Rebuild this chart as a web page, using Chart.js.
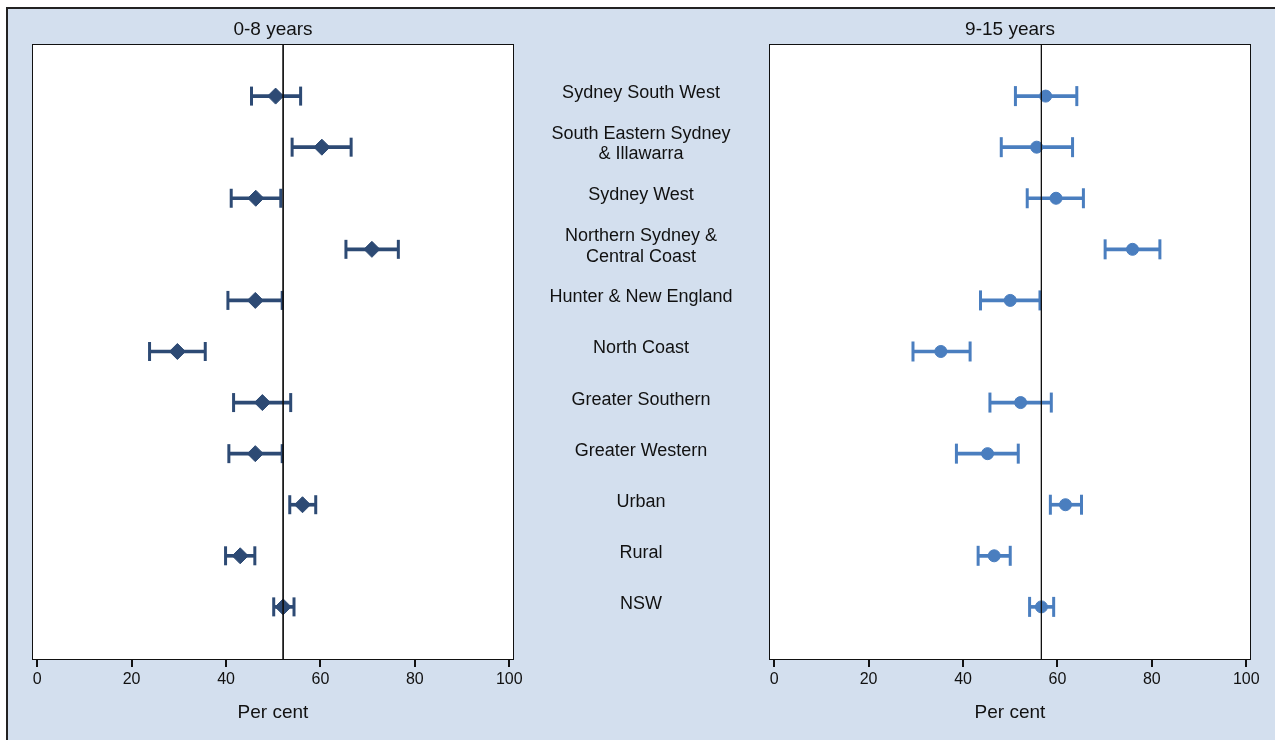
<!DOCTYPE html>
<html>
<head>
<meta charset="utf-8">
<script src="https://cdn.jsdelivr.net/npm/chart.js"></script>
<style>
  html, body { margin: 0; padding: 0; background: #fff; }
  body { width: 1275px; height: 740px; position: relative; overflow: hidden; }
  #frame {
    position: absolute; left: 6px; top: 7px; right: 0; bottom: 0;
    background: #d3dfee;
    border-left: 2px solid #222; border-top: 2px solid #222;
  }
  #left { position: absolute; left: 0; top: 0; }
  #right { position: absolute; left: 520px; top: 0; }
</style>
</head>
<body>
<div id="frame"></div>
<canvas id="left" width="546" height="740"></canvas>
<canvas id="right" width="755" height="740"></canvas>
<script>
// regions, top to bottom
const regions = [
  ["Sydney South West"],
  ["South Eastern Sydney", "& Illawarra"],
  ["Sydney West"],
  ["Northern Sydney &", "Central Coast"],
  ["Hunter & New England"],
  ["North Coast"],
  ["Greater Southern"],
  ["Greater Western"],
  ["Urban"],
  ["Rural"],
  ["NSW"]
];

// 0-8 years: estimate and 95% CI
const young = [50.5, 60.3, 46.3, 70.9, 46.2, 29.7, 47.7, 46.2, 56.2, 43.0, 52.1];
const youngLo = [45.4, 54.0, 41.1, 65.4, 40.4, 23.8, 41.6, 40.6, 53.5, 39.9, 50.1];
const youngHi = [55.8, 66.5, 51.6, 76.5, 51.9, 35.6, 53.7, 51.9, 59.0, 46.1, 54.4];

// 9-15 years
const older = [57.5, 55.6, 59.7, 75.9, 50.0, 35.3, 52.2, 45.2, 61.7, 46.6, 56.6];
const olderLo = [51.1, 48.1, 53.6, 70.1, 43.7, 29.4, 45.7, 38.6, 58.5, 43.2, 54.1];
const olderHi = [64.1, 63.2, 65.5, 81.7, 56.3, 41.5, 58.7, 51.7, 65.1, 50.0, 59.2];

const xTicks = [0, 20, 40, 60, 80, 100];

const FONT = 'Arial, "Liberation Sans", sans-serif';
const Y_MIN = -1.02, Y_MAX = 11.04;

// white plot area with a thin box round it
const framePlugin = {
  id: 'frame',
  beforeDatasetsDraw(chart) {
    const a = chart.chartArea, ctx = chart.ctx;
    ctx.save();
    ctx.fillStyle = '#fff';
    ctx.fillRect(a.left, a.top, a.right - a.left, a.bottom - a.top);
    ctx.restore();
  },
  afterDatasetsDraw(chart) {
    const a = chart.chartArea, ctx = chart.ctx;
    ctx.save();
    ctx.strokeStyle = '#111';
    ctx.lineWidth = 1;
    ctx.strokeRect(a.left + 0.5, a.top + 0.5, a.right - a.left - 1, a.bottom - a.top - 1);
    ctx.restore();
  }
};

function makeChart(id, title, est, lo, hi, color, marker, markerSize, capSize, labelAxis, padding) {
  const ref = est[est.length - 1]; // NSW value
  const yAxis = {
    type: 'linear', min: Y_MIN, max: Y_MAX, reverse: true, offset: false,
    display: labelAxis != null,
    grid: { display: false, drawTicks: false, offset: false },
    border: { display: false },
    afterBuildTicks: s => { s.ticks = regions.map((r, i) => ({ value: i })); },
    ticks: {
      callback: v => regions[v],
      crossAlign: 'center',
      padding: labelAxis ? labelAxis.padding : 0,
      labelOffset: -3,
      color: '#111',
      font: { family: FONT, size: 18, lineHeight: 1.15 }
    }
  };
  if (labelAxis) yAxis.afterFit = s => { s.width = labelAxis.width; s.paddingTop = 0; s.paddingBottom = 0; };

  return new Chart(document.getElementById(id), {
    type: 'bar',
    data: {
      datasets: [
        {
          type: 'line', order: 0,
          data: [{ x: ref, y: Y_MIN }, { x: ref, y: Y_MAX }],
          borderColor: '#111', borderWidth: 1, pointRadius: 0
        },
        {
          type: 'scatter', order: 1,
          data: est.map((v, i) => ({ x: v, y: i })),
          pointStyle: marker, pointRadius: markerSize,
          backgroundColor: color, borderColor: color, borderWidth: 1
        },
        {
          type: 'scatter', order: 2,
          data: lo.map((v, i) => ({ x: v, y: i })).concat(hi.map((v, i) => ({ x: v, y: i }))),
          pointStyle: 'line', rotation: 90, pointRadius: capSize,
          borderColor: color, borderWidth: 3
        },
        {
          type: 'bar', order: 3, indexAxis: 'y',
          data: lo.map((v, i) => ({ y: i, x: [v, hi[i]] })),
          barThickness: 3, backgroundColor: color, borderWidth: 0
        }
      ]
    },
    options: {
      responsive: false, animation: false, events: [],
      layout: { padding: padding },
      plugins: { legend: { display: false }, tooltip: { enabled: false } },
      scales: {
        x: {
          type: 'linear', position: 'bottom', min: -1.1, max: 101, offset: false,
          afterBuildTicks: s => { s.ticks = xTicks.map(v => ({ value: v })); },
          grid: { drawOnChartArea: false, drawTicks: true, tickLength: 7, color: '#111', lineWidth: 2, offset: false },
          border: { display: false },
          ticks: { padding: 3, color: '#111', font: { family: FONT, size: 16 } },
          title: {
            display: true, text: 'Per cent', color: '#111',
            font: { family: FONT, size: 19 }, padding: { top: 9.4, bottom: 15.6 }
          }
        },
        top: {
          type: 'linear', position: 'top', min: -1.1, max: 101, display: true, offset: false,
          grid: { display: false, drawTicks: false },
          border: { display: false },
          ticks: { display: false },
          title: {
            display: true, text: title, color: '#111',
            font: { family: FONT, size: 19 }, padding: { top: 18.6, bottom: 2.6 }
          }
        },
        y: yAxis
      }
    },
    plugins: [framePlugin]
  });
}

// centre the region labels at x = 641 (121 px into the right canvas)
const mctx = document.createElement('canvas').getContext('2d');
mctx.font = '18px ' + FONT;
let widest = 0;
regions.forEach(r => r.forEach(line => { widest = Math.max(widest, mctx.measureText(line).width); }));
const axisWidth = 249;

makeChart('left', '0-8 years', young, youngLo, youngHi, '#2d4a74', 'rectRot', 8, 9.5, null,
  { left: 32, right: 32, top: 0, bottom: 0 });
makeChart('right', '9-15 years', older, olderLo, olderHi, '#4a7ebf', 'circle', 6, 10,
  { width: axisWidth, padding: axisWidth - 121 - widest / 2 },
  { left: 0, right: 24, top: 0, bottom: 0 });
</script>
</body>
</html>
